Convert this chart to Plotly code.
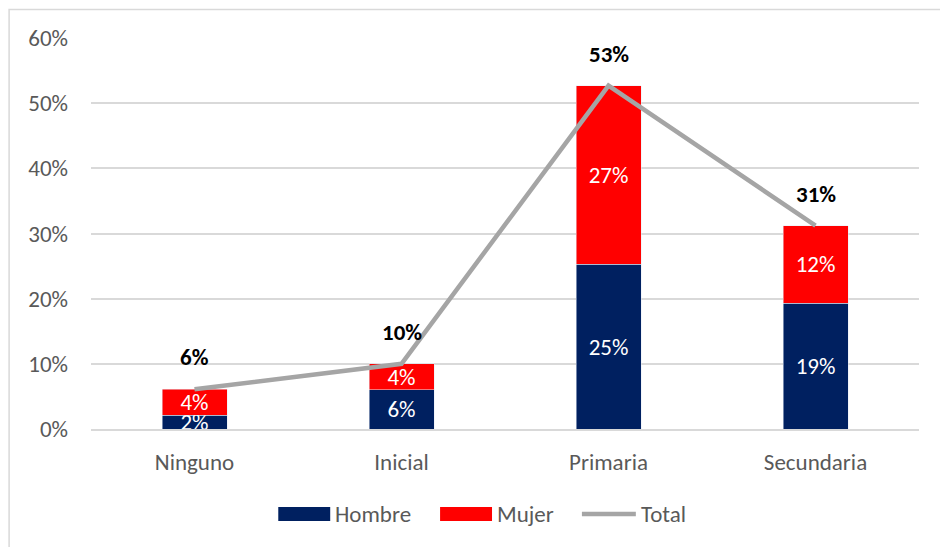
import plotly.graph_objects as go

categorias = ["Ninguno", "Inicial", "Primaria", "Secundaria"]
hombre = [0.021, 0.060, 0.253, 0.193]
mujer = [0.040, 0.040, 0.274, 0.119]
total = [h + m for h, m in zip(hombre, mujer)]

AZUL = "#002060"
ROJO = "#FF0000"
GRIS = "#A5A5A5"
TEXTO = "#595959"
FUENTE = "Carlito, Lato, Calibri, sans-serif"
TAM = 23

W, H = 940, 547
ML, MR, MT, MB = 90.5, 20.5, 38, 118
PW, PH = W - ML - MR, H - MT - MB


def px(x):
    return (x - ML) / PW


def py(y):
    return (H - MB - y) / PH


fig = go.Figure()
fig.add_trace(go.Bar(
    x=categorias, y=hombre, name="Hombre", marker_color=AZUL,
    text=[f"{v:.0%}" for v in hombre], textposition="inside",
    insidetextanchor="middle", textfont=dict(color="white", size=TAM, family=FUENTE),
    showlegend=False,
))
fig.add_trace(go.Bar(
    x=categorias, y=mujer, name="Mujer", marker_color=ROJO,
    text=[f"{v:.0%}" for v in mujer], textposition="inside",
    insidetextanchor="middle", textfont=dict(color="white", size=TAM, family=FUENTE),
    showlegend=False,
))
fig.add_trace(go.Scatter(
    x=categorias, y=total, name="Total", mode="lines",
    line=dict(color=GRIS, width=4.5), showlegend=False,
))

for c, t in zip(categorias, total):
    fig.add_annotation(
        x=c, y=t, text=f"<b>{t:.0%}</b>", showarrow=False, yshift=32,
        font=dict(size=TAM, color="black", family=FUENTE),
    )

# Leyenda dibujada a mano
shapes = []
annotations = []
leyenda = [("Hombre", AZUL, 278, "rect"), ("Mujer", ROJO, 440, "rect"), ("Total", GRIS, 580, "line")]
ly = 514
for nombre, color, x0, tipo in leyenda:
    if tipo == "rect":
        shapes.append(dict(type="rect", xref="paper", yref="paper",
                           x0=px(x0), x1=px(x0 + 52), y0=py(ly - 7), y1=py(ly + 7),
                           fillcolor=color, line=dict(width=0)))
        tx = x0 + 55
    else:
        shapes.append(dict(type="line", xref="paper", yref="paper",
                           x0=px(x0 + 2), x1=px(x0 + 56), y0=py(ly), y1=py(ly),
                           line=dict(color=color, width=4.5)))
        tx = x0 + 59
    annotations.append(dict(xref="paper", yref="paper", x=px(tx), y=py(ly),
                            xanchor="left", yanchor="middle", showarrow=False,
                            text=nombre, font=dict(size=TAM, color=TEXTO, family=FUENTE)))

# Marco del gráfico
shapes.append(dict(type="rect", xref="paper", yref="paper",
                   x0=px(8.5), x1=px(960), y0=py(570), y1=py(9.5),
                   line=dict(color="#D9D9D9", width=1.5), fillcolor="rgba(0,0,0,0)"))

for a in annotations:
    fig.add_annotation(**a)

fig.update_layout(
    width=W, height=H, barmode="stack", bargap=0.686,
    margin=dict(l=ML, r=MR, t=MT, b=MB),
    plot_bgcolor="white", paper_bgcolor="white",
    font=dict(family=FUENTE, size=TAM, color=TEXTO),
    uniformtext=dict(mode="show", minsize=TAM),
    shapes=shapes,
    xaxis=dict(showline=True, linecolor="#D9D9D9", linewidth=1.5, ticks="",
               ticklabelstandoff=12, tickfont=dict(size=TAM, color=TEXTO)),
    yaxis=dict(range=[0, 0.6], dtick=0.1, tickformat=".0%", showgrid=True,
               gridcolor="#D9D9D9", gridwidth=1.5, zeroline=False, showline=False,
               ticklabelstandoff=22, tickfont=dict(size=TAM, color=TEXTO)),
)

fig.write_html("out.html")
